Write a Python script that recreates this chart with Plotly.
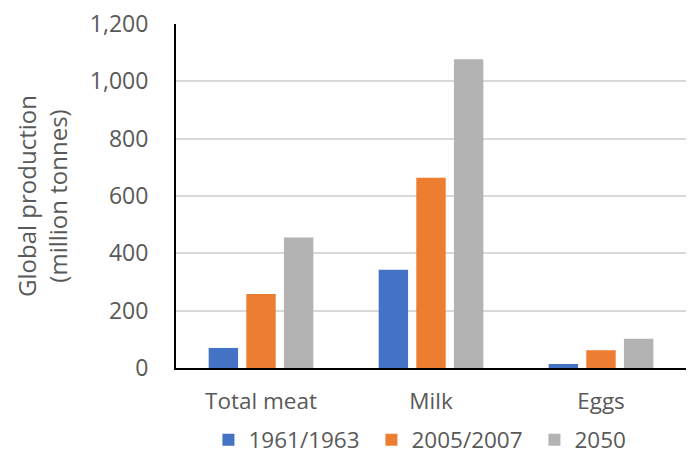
import plotly.graph_objects as go

# Livestock products, global production (million tonnes)
categories = ["Total meat", "Milk", "Eggs"]
series_names = ["1961/1963", "2005/2007", "2050"]
values_1961 = [70, 343, 14]
values_2005 = [258, 664, 62]
values_2050 = [455, 1077, 102]
y_ticks = [0, 200, 400, 600, 800, 1000, 1200]
y_tick_labels = ["0", "200", "400", "600", "800", "1,000", "1,200"]

colors = ["#4472C4", "#ED7D31", "#B3B3B3"]
text_color = "#595959"
font_family = "Open Sans"

fig = go.Figure()
for name, vals, col in zip(series_names, [values_1961, values_2005, values_2050], colors):
    fig.add_trace(go.Bar(
        x=categories, y=vals, name=name,
        marker=dict(color=col, line=dict(width=0)),
    ))

fig.update_layout(
    width=691, height=457,
    margin=dict(l=176, r=5, t=24, b=89, autoexpand=False),
    paper_bgcolor="white", plot_bgcolor="white",
    font=dict(family=font_family, size=22, color=text_color),
    barmode="group", bargap=0.336, bargroupgap=0.218,
    showlegend=True,
    legend=dict(
        orientation="h", x=0.543, xanchor="center",
        yref="container", y=0.037, yanchor="middle",
        font=dict(size=22.5, color=text_color),
        itemwidth=30, entrywidth=118, entrywidthmode="pixels",
        traceorder="normal",
    ),
)

fig.update_xaxes(
    showline=True, linecolor="black", linewidth=2,
    showgrid=False, ticks="", ticklabelstandoff=12,
    tickfont=dict(size=22.5, color=text_color),
)
fig.update_yaxes(
    range=[0, 1200], tickvals=y_ticks, ticktext=y_tick_labels,
    showline=True, linecolor="black", linewidth=2,
    showgrid=True, gridcolor="#D9D9D9", gridwidth=1.5,
    zeroline=False, ticks="", ticklabelstandoff=21,
    tickfont=dict(size=23, color=text_color),
    title=dict(text="Global production<br>(million tonnes)",
               font=dict(size=24, color=text_color), standoff=15),
)

fig.write_html("out.html")
